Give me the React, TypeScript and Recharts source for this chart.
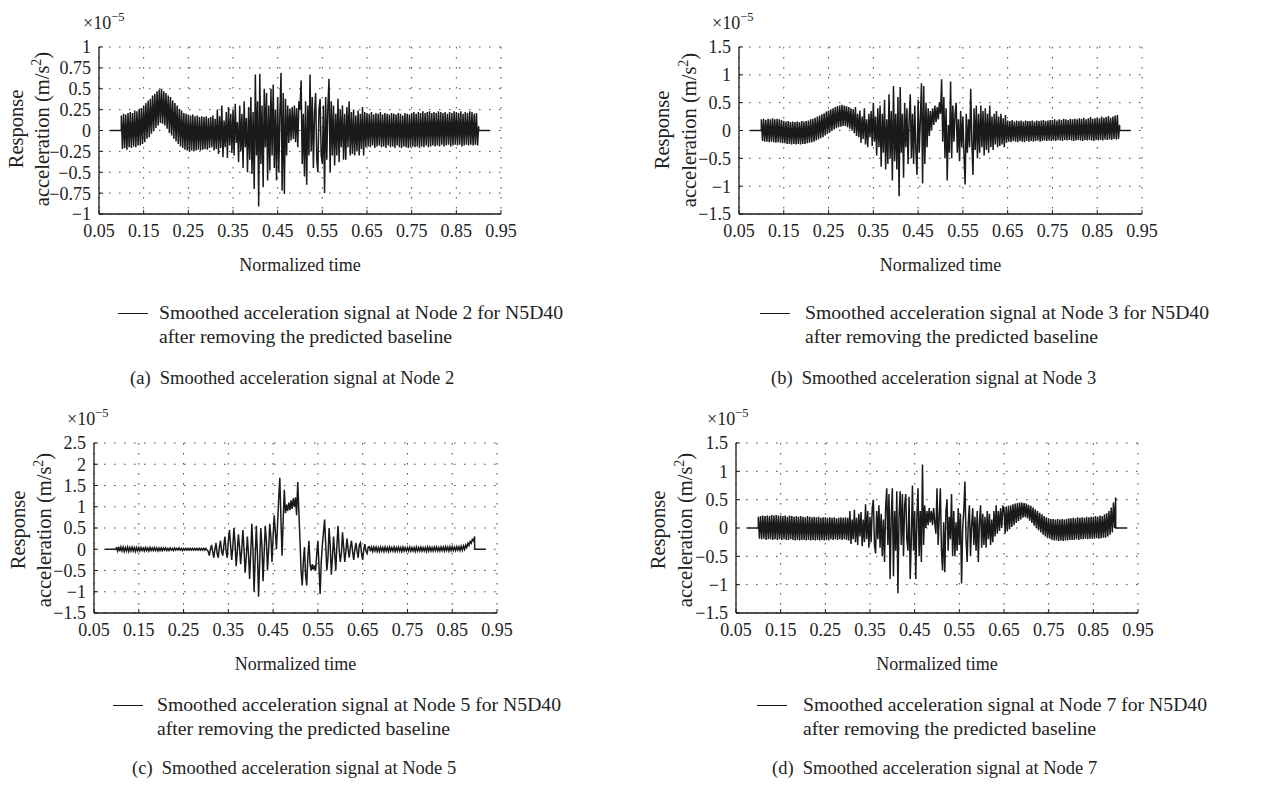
import React from 'react';
import { LineChart, Line, XAxis, YAxis, CartesianGrid } from 'recharts';

// signal values in units of 1e-5 m/s^2, one sample every 0.0025 of normalized time, 0.100 .. 0.900
const node2 = [
  0.18, -0.22, 0.2, -0.21, 0.19, -0.23, 0.21, -0.2, 0.22, -0.21, 0.21, -0.19, 0.24, -0.2, 0.23, -0.18, 0.26, -0.18, 0.27, -0.16,
  0.3, -0.14, 0.33, -0.1, 0.36, -0.08, 0.38, -0.04, 0.42, -0.01, 0.44, 0.03, 0.47, 0.06, 0.49, 0.09, 0.5, 0.08, 0.47, 0.06,
  0.45, 0.02, 0.42, -0.03, 0.4, -0.06, 0.36, -0.1, 0.33, -0.13, 0.3, -0.16, 0.26, -0.19, 0.24, -0.21, 0.21, -0.23, 0.2, -0.24,
  0.19, -0.25, 0.18, -0.24, 0.19, -0.25, 0.17, -0.24, 0.18, -0.23, 0.16, -0.24, 0.17, -0.23, 0.16, -0.22, 0.17, -0.23, 0.15, -0.21,
  0.16, -0.2, 0.18, -0.24, 0.14, -0.22, 0.25, -0.28, 0.17, -0.21, 0.3, -0.32, 0.12, -0.2, 0.22, -0.33, 0.28, -0.18, 0.2, -0.27,
  0.25, -0.3, 0.32, -0.15, 0.1, -0.38, 0.3, -0.25, 0.2, -0.45, 0.35, -0.2, 0.15, -0.5, 0.28, -0.35, 0.4, -0.52, 0.22, -0.7,
  0.67, -0.3, 0.35, -0.91, 0.68, -0.4, 0.3, -0.68, 0.5, -0.2, 0.45, -0.6, 0.3, -0.48, 0.5, -0.3, 0.55, -0.45, 0.25, -0.6,
  0.4, -0.5, 0.2, 0.69, -0.72, 0.45, -0.76, 0.38, -0.3, 0.3, -0.15, 0.26, -0.12, 0.28, -0.1, 0.3, -0.14, 0.27, -0.2, 0.35,
  0.25, 0.6, -0.4, 0.2, -0.55, 0.35, -0.65, 0.3, -0.3, 0.67, -0.25, 0.4, -0.45, 0.2, 0.45, -0.35, -0.5, 0.25, 0.38, -0.3,
  -0.4, 0.3, -0.75, 0.4, -0.35, 0.3, 0.62, -0.5, 0.35, -0.3, 0.3, -0.42, 0.2, -0.3, 0.38, -0.38, 0.25, -0.2, 0.3, -0.35,
  0.2, -0.35, 0.28, -0.2, 0.35, -0.3, 0.22, -0.28, 0.25, -0.3, 0.18, -0.25, 0.24, -0.3, 0.2, -0.22, 0.28, -0.3, 0.22, -0.2,
  0.21, -0.19, 0.2, -0.2, 0.22, -0.18, 0.19, -0.21, 0.21, -0.19, 0.2, -0.18, 0.22, -0.2, 0.19, -0.19, 0.21, -0.21, 0.2, -0.18,
  0.19, -0.2, 0.21, -0.19, 0.2, -0.21, 0.19, -0.18, 0.21, -0.2, 0.2, -0.21, 0.18, -0.19, 0.21, -0.2, 0.2, -0.21, 0.19, -0.2,
  0.21, -0.19, 0.22, -0.2, 0.2, -0.19, 0.22, -0.21, 0.21, -0.19, 0.23, -0.2, 0.21, -0.18, 0.22, -0.2, 0.23, -0.19, 0.21, -0.18,
  0.22, -0.19, 0.21, -0.18, 0.23, -0.19, 0.22, -0.17, 0.21, -0.19, 0.22, -0.18, 0.2, -0.17, 0.22, -0.19, 0.21, -0.18, 0.23, -0.17,
  0.22, -0.18, 0.21, -0.17, 0.23, -0.19, 0.2, -0.18, 0.22, -0.17, 0.21, -0.18, 0.23, -0.17, 0.22, -0.18, 0.2, -0.17, 0.21, -0.18,
  0.05,
];

const node3 = [
  0.2, -0.19, 0.21, -0.2, 0.19, -0.2, 0.21, -0.21, 0.2, -0.2, 0.22, -0.21, 0.2, -0.22, 0.21, -0.21, 0.2, -0.22, 0.19, -0.23,
  0.17, -0.23, 0.16, -0.24, 0.17, -0.24, 0.15, -0.25, 0.16, -0.24, 0.15, -0.25, 0.16, -0.24, 0.15, -0.25, 0.17, -0.24, 0.16, -0.24,
  0.17, -0.23, 0.18, -0.22, 0.2, -0.21, 0.21, -0.2, 0.23, -0.18, 0.25, -0.16, 0.27, -0.14, 0.29, -0.12, 0.31, -0.09, 0.34, -0.06,
  0.36, -0.04, 0.38, -0.01, 0.4, 0.02, 0.42, 0.04, 0.44, 0.06, 0.45, 0.07, 0.46, 0.08, 0.45, 0.08, 0.44, 0.06, 0.42, 0.03,
  0.4, 0.0, 0.38, -0.05, 0.42, -0.1, 0.3, -0.12, 0.36, -0.22, 0.25, -0.15, 0.4, -0.25, 0.2, -0.3, 0.3, -0.12, 0.35, -0.28,
  0.5, -0.2, 0.25, -0.45, 0.4, -0.3, 0.45, -0.65, 0.3, -0.4, 0.55, -0.7, 0.2, -0.6, 0.65, -0.5, 0.35, -0.9, 0.8, -0.55,
  0.3, -0.7, 0.6, -1.18, 0.78, -0.4, 0.3, -0.85, 0.5, -0.3, 0.4, -0.6, 0.2, 0.65, -0.5, 0.3, -0.6, 0.45, -0.35, -0.8,
  0.55, -0.4, 0.2, 0.85, -0.95, 0.8, -0.6, 0.5, -0.3, 0.4, -0.1, 0.35, 0.0, 0.4, 0.1, 0.45, 0.15, 0.42, 0.2, 0.5,
  0.3, 0.92, -0.2, 0.6, -0.5, 0.4, -0.9, 0.1, -0.4, 0.88, -0.5, 0.45, -0.2, 0.3, 0.5, -0.4, 0.2, -0.55, 0.35, -0.3,
  0.25, -0.45, -0.97, 0.3, -0.4, 0.2, -0.3, 0.75, -0.2, -0.8, 0.4, -0.35, 0.45, -0.5, 0.3, -0.4, 0.45, -0.3, 0.35, -0.45,
  0.4, -0.35, 0.3, -0.4, 0.45, -0.3, 0.25, -0.35, 0.3, -0.25, 0.35, -0.3, 0.25, -0.28, 0.3, -0.25, 0.22, -0.3, 0.28, -0.22,
  0.18, -0.2, 0.17, -0.21, 0.19, -0.19, 0.16, -0.2, 0.18, -0.21, 0.17, -0.19, 0.18, -0.2, 0.16, -0.21, 0.18, -0.19, 0.17, -0.2,
  0.17, -0.19, 0.18, -0.2, 0.16, -0.19, 0.18, -0.18, 0.17, -0.2, 0.18, -0.19, 0.19, -0.18, 0.17, -0.19, 0.18, -0.18, 0.19, -0.19,
  0.19, -0.18, 0.2, -0.19, 0.18, -0.17, 0.2, -0.18, 0.19, -0.19, 0.21, -0.17, 0.2, -0.18, 0.19, -0.17, 0.21, -0.18, 0.2, -0.19,
  0.21, -0.18, 0.2, -0.17, 0.22, -0.18, 0.21, -0.19, 0.23, -0.17, 0.2, -0.18, 0.22, -0.17, 0.24, -0.18, 0.21, -0.19, 0.22, -0.17,
  0.23, -0.18, 0.22, -0.17, 0.25, -0.18, 0.23, -0.16, 0.24, -0.17, 0.26, -0.16, 0.23, -0.17, 0.25, -0.15, 0.27, -0.16, 0.28, -0.15,
  0.1,
];

const node5 = [
  0.05, -0.04, 0.06, -0.05, 0.05, -0.04, 0.05, -0.05, 0.04, -0.04, 0.05, -0.05, 0.04, -0.04, 0.05, -0.04, 0.04, -0.05, 0.04, -0.04,
  0.04, -0.04, 0.04, -0.03, 0.03, -0.04, 0.04, -0.03, 0.03, -0.04, 0.04, -0.03, 0.03, -0.03, 0.04, -0.03, 0.03, -0.04, 0.03, -0.03,
  0.03, -0.03, 0.03, -0.02, 0.03, -0.03, 0.02, -0.03, 0.03, -0.02, 0.02, -0.03, 0.03, -0.02, 0.02, -0.02, 0.03, -0.02, 0.02, -0.03,
  0.02, -0.02, 0.02, -0.02, 0.02, -0.02, 0.02, -0.02, 0.02, -0.02, 0.02, -0.02, 0.02, -0.02, 0.02, -0.02, 0.02, -0.02, 0.02, -0.02,
  0.02, -0.02, -0.05, -0.15, 0.0, 0.1, -0.05, -0.2, 0.0, 0.15, -0.1, -0.2, 0.05, 0.2, -0.05, -0.15, 0.1, 0.3, -0.05, -0.2,
  0.2, 0.45, 0.1, -0.25, 0.05, 0.5, 0.15, -0.4, -0.05, 0.35, 0.05, -0.35, 0.0, 0.45, 0.0, -0.55, -0.2, 0.3, -0.1, -0.7,
  -0.1, 0.6, 0.0, -1.0, -0.2, 0.55, -0.1, -1.12, -0.3, 0.5, 0.1, -0.75, -0.1, 0.55, 0.2, -0.5, 0.0, 0.6, 0.3, -0.3,
  0.3, 0.8, 0.4, 0.0, 0.6, 1.2, 1.68, 0.7, -0.15, 0.7, 1.4, 0.85, 1.05, 0.9, 1.1, 0.92, 1.15, 0.95, 1.2, 1.0,
  1.22, 0.8, 1.58, 0.9, 0.2, -0.5, -0.85, -0.3, 0.05, -0.6, -0.85, -0.2, 0.2, -0.35, -0.5, -0.35, -0.48, -0.38, -0.5, -0.1,
  0.2, -0.4, -1.05, -0.3, 0.1, 0.4, 0.7, 0.1, -0.5, -0.2, 0.5, 0.1, -0.6, -0.2, 0.3, -0.1, -0.5, 0.1, 0.55, 0.0,
  -0.3, -0.1, 0.4, 0.05, -0.3, -0.05, 0.25, 0.0, -0.2, 0.05, 0.2, -0.05, -0.25, 0.0, 0.15, -0.05, -0.2, 0.1, 0.15, -0.1,
  -0.25, 0.0, 0.12, -0.05, -0.1, 0.05, 0.06, -0.05, 0.05, -0.05, 0.05, -0.04, 0.05, -0.05, 0.04, -0.05, 0.05, -0.04, 0.04, -0.05,
  0.05, -0.04, 0.04, -0.05, 0.05, -0.04, 0.04, -0.04, 0.05, -0.05, 0.04, -0.04, 0.05, -0.04, 0.04, -0.05, 0.05, -0.04, 0.04, -0.04,
  0.04, -0.04, 0.05, -0.04, 0.04, -0.04, 0.04, -0.05, 0.05, -0.04, 0.04, -0.04, 0.05, -0.04, 0.04, -0.04, 0.04, -0.05, 0.05, -0.04,
  0.05, -0.04, 0.04, -0.04, 0.05, -0.03, 0.05, -0.04, 0.04, -0.04, 0.05, -0.03, 0.05, -0.04, 0.06, -0.03, 0.05, -0.04, 0.06, -0.03,
  0.06, -0.03, 0.05, -0.03, 0.06, -0.02, 0.06, -0.03, 0.07, -0.02, 0.08, 0.0, 0.1, 0.04, 0.14, 0.09, 0.18, 0.14, 0.23, 0.2,
  0.3,
];

const node7 = [
  0.2, -0.19, 0.21, -0.2, 0.22, -0.19, 0.21, -0.21, 0.22, -0.2, 0.21, -0.2, 0.23, -0.21, 0.22, -0.2, 0.23, -0.21, 0.22, -0.2,
  0.22, -0.21, 0.21, -0.2, 0.22, -0.21, 0.2, -0.21, 0.22, -0.2, 0.21, -0.21, 0.2, -0.22, 0.21, -0.21, 0.2, -0.22, 0.21, -0.21,
  0.2, -0.21, 0.19, -0.22, 0.21, -0.21, 0.2, -0.22, 0.19, -0.21, 0.2, -0.22, 0.19, -0.21, 0.2, -0.22, 0.18, -0.21, 0.19, -0.22,
  0.19, -0.21, 0.18, -0.22, 0.19, -0.2, 0.18, -0.21, 0.19, -0.2, 0.17, -0.21, 0.18, -0.2, 0.19, -0.21, 0.18, -0.2, 0.19, -0.21,
  0.18, -0.22, 0.3, -0.28, 0.15, -0.2, 0.32, -0.25, 0.18, -0.3, 0.25, -0.15, 0.28, -0.32, 0.15, -0.25, 0.42, -0.2, 0.3, -0.35,
  0.2, -0.25, 0.35, 0.5, -0.3, -0.45, 0.3, -0.2, 0.4, -0.35, 0.25, -0.5, 0.15, -0.6, 0.35, 0.7, -0.3, 0.6, -0.9, 0.2,
  0.7, -0.85, 0.3, -0.4, 0.65, -1.15, 0.2, 0.65, -0.3, 0.6, -0.5, 0.4, 0.6, -0.2, -0.4, 0.55, -0.9, -0.2, 0.75, -0.4,
  0.3, -0.9, 0.2, 0.7, -0.5, 0.3, -0.6, 1.12, -0.3, 0.4, 0.0, 0.3, 0.05, 0.35, 0.1, 0.3, 0.05, 0.35, 0.1, -0.1,
  0.7, -0.3, 0.2, 0.7, -0.4, -0.75, 0.1, -0.78, 0.3, 0.5, -0.4, 0.2, -0.2, 0.6, -0.5, 0.3, -0.5, 0.1, -0.4, 0.35,
  -0.3, 0.25, -0.98, 0.0, 0.3, 0.82, -0.2, -0.6, 0.1, 0.4, -0.5, 0.05, 0.35, -0.3, 0.2, -0.4, 0.3, -0.6, 0.1, 0.4,
  -0.35, 0.25, -0.3, 0.2, -0.35, 0.3, -0.2, 0.25, -0.3, 0.15, -0.25, 0.3, -0.15, 0.4, -0.1, 0.3, -0.05, 0.35, 0.0, 0.38,
  0.36, -0.1, 0.38, -0.06, 0.39, -0.02, 0.4, 0.02, 0.42, 0.05, 0.43, 0.09, 0.44, 0.12, 0.45, 0.15, 0.45, 0.18, 0.44, 0.19,
  0.43, 0.17, 0.41, 0.13, 0.39, 0.09, 0.36, 0.04, 0.33, 0.0, 0.3, -0.04, 0.27, -0.08, 0.24, -0.12, 0.21, -0.15, 0.19, -0.18,
  0.17, -0.19, 0.16, -0.21, 0.16, -0.22, 0.15, -0.22, 0.16, -0.23, 0.15, -0.22, 0.16, -0.23, 0.15, -0.22, 0.16, -0.22, 0.17, -0.21,
  0.17, -0.21, 0.18, -0.21, 0.17, -0.2, 0.19, -0.21, 0.18, -0.2, 0.19, -0.2, 0.18, -0.19, 0.2, -0.2, 0.19, -0.19, 0.2, -0.19,
  0.2, -0.19, 0.21, -0.18, 0.2, -0.19, 0.22, -0.18, 0.21, -0.17, 0.24, -0.17, 0.26, -0.15, 0.3, -0.12, 0.36, -0.08, 0.45, 0.0,
  0.54,
];

const xTicks = [0.05, 0.15, 0.25, 0.35, 0.45, 0.55, 0.65, 0.75, 0.85, 0.95];
const yTicksA = [-1, -0.75, -0.5, -0.25, 0, 0.25, 0.5, 0.75, 1];
const yTicksB = [-1.5, -1, -0.5, 0, 0.5, 1, 1.5];
const yTicksC = [-1.5, -1, -0.5, 0, 0.5, 1, 1.5, 2, 2.5];
const yTicksD = [-1.5, -1, -0.5, 0, 0.5, 1, 1.5];

const SERIF = "'Liberation Serif', 'DejaVu Serif', serif";
const INK = '#1a1a1a';

function toRows(values: number[]) {
  const rows = [{ t: 0.075, v: 0 }, { t: 0.0999, v: 0 }];
  values.forEach((v, i) => rows.push({ t: 0.1 + i * 0.0025, v }));
  rows.push({ t: 0.9001, v: 0 }, { t: 0.925, v: 0 });
  return rows;
}

const fmtY = (v: number) => (v < 0 ? '\u2212' + Math.abs(v) : String(v));

interface PanelProps {
  values: number[];
  yTicks: number[];
  box: { L: number; T: number; W: number; H: number };
  expX: number;
  yLab: { x1: number; x2: number; cy: number };
  node: string;
  letter: string;
  leg: { lineX: number; textX: number; y1: number; capX: number; capY: number };
}

const abs = (left: number, top: number, extra: React.CSSProperties = {}): React.CSSProperties => ({
  position: 'absolute',
  left,
  top,
  whiteSpace: 'nowrap',
  fontFamily: SERIF,
  color: '#222',
  lineHeight: 1,
  ...extra,
});

function Panel({ values, yTicks, box, expX, yLab, node, letter, leg }: PanelProps) {
  const data = toRows(values);
  const domain: [number, number] = [yTicks[0], yTicks[yTicks.length - 1]];
  const frame = { stroke: INK, strokeWidth: 1.3 };
  const inTick = { stroke: INK, strokeWidth: 1 };
  return (
    <>
      <div style={abs(box.L - 60, box.T - 10)}>
        <LineChart width={box.W + 90} height={box.H + 40} data={data} margin={{ top: 10, right: 30, left: 0, bottom: 0 }}>
          <CartesianGrid stroke="#444" strokeDasharray="1.5 8.5" strokeWidth={1} />
          <XAxis
            dataKey="t"
            type="number"
            domain={[0.05, 0.95]}
            ticks={xTicks}
            interval={0}
            allowDataOverflow
            height={30}
            tickSize={-4}
            tickMargin={14}
            tickLine={inTick}
            axisLine={frame}
            tickFormatter={(v: number) => v.toFixed(2)}
            tick={{ fill: '#222', fontSize: 18, fontFamily: SERIF }}
          />
          <XAxis xAxisId="top" orientation="top" type="number" domain={[0.05, 0.95]} ticks={xTicks} interval={0} height={0} tick={false} tickSize={-4} tickLine={inTick} axisLine={frame} />
          <YAxis
            type="number"
            domain={domain}
            ticks={yTicks}
            interval={0}
            width={60}
            tickSize={-4}
            tickMargin={12}
            tickLine={inTick}
            axisLine={frame}
            tickFormatter={fmtY}
            tick={{ fill: '#222', fontSize: 18, fontFamily: SERIF }}
          />
          <YAxis yAxisId="right" orientation="right" type="number" domain={domain} ticks={yTicks} interval={0} width={0} tick={false} tickSize={-4} tickLine={inTick} axisLine={frame} />
          <Line type="linear" dataKey="v" stroke={INK} strokeWidth={1.5} dot={false} isAnimationActive={false} />
        </LineChart>
      </div>

      <div style={abs(expX, box.T - 36, { fontSize: 18 })}>
        ×10<sup style={{ fontSize: 12.5, verticalAlign: 8 }}>{'\u22125'}</sup>
      </div>

      <div style={abs(yLab.x1, yLab.cy, { fontSize: 20.5, transform: 'translate(-50%, -50%) rotate(-90deg)' })}>Response</div>
      <div style={abs(yLab.x2, yLab.cy, { fontSize: 20.5, transform: 'translate(-50%, -50%) rotate(-90deg)' })}>
        acceleration (m/s<sup style={{ fontSize: 14, verticalAlign: 8 }}>2</sup>)
      </div>

      <div style={abs(box.L + box.W / 2, box.T + box.H + 51, { fontSize: 18, transform: 'translate(-50%, -50%)' })}>Normalized time</div>

      <div style={{ position: 'absolute', left: leg.lineX, top: leg.y1, width: 30, borderTop: `1px solid ${INK}` }} />
      <div style={abs(leg.textX, leg.y1, { fontSize: 19.7, transform: 'translateY(-50%)' })}>
        Smoothed acceleration signal at Node {node} for N5D40
      </div>
      <div style={abs(leg.textX, leg.y1 + 24, { fontSize: 19.7, transform: 'translateY(-50%)' })}>after removing the predicted baseline</div>
      <div style={abs(leg.capX, leg.capY, { fontSize: 18.5, transform: 'translateY(-50%)' })}>
        ({letter})&nbsp;&nbsp;Smoothed acceleration signal at Node {node}
      </div>
    </>
  );
}

export default function App() {
  return (
    <div style={{ position: 'absolute', left: 0, top: 0, width: 1280, height: 791, background: '#fff', overflow: 'hidden' }}>
      <Panel
        values={node2}
        yTicks={yTicksA}
        box={{ L: 99, T: 47, W: 402, H: 167 }}
        expX={83}
        yLab={{ x1: 16, x2: 41, cy: 129 }}
        node="2"
        letter="a"
        leg={{ lineX: 118, textX: 159, y1: 313, capX: 130, capY: 378 }}
      />
      <Panel
        values={node3}
        yTicks={yTicksB}
        box={{ L: 739, T: 47, W: 403, H: 167 }}
        expX={712}
        yLab={{ x1: 662, x2: 688, cy: 130 }}
        node="3"
        letter="b"
        leg={{ lineX: 760, textX: 805, y1: 313, capX: 771, capY: 378 }}
      />
      <Panel
        values={node5}
        yTicks={yTicksC}
        box={{ L: 94, T: 443, W: 403, H: 170 }}
        expX={67}
        yLab={{ x1: 18, x2: 43, cy: 530 }}
        node="5"
        letter="c"
        leg={{ lineX: 113, textX: 157, y1: 705, capX: 132, capY: 768 }}
      />
      <Panel
        values={node7}
        yTicks={yTicksD}
        box={{ L: 736, T: 443, W: 402, H: 170 }}
        expX={707}
        yLab={{ x1: 658, x2: 684, cy: 530 }}
        node="7"
        letter="d"
        leg={{ lineX: 757, textX: 803, y1: 705, capX: 772, capY: 768 }}
      />
    </div>
  );
}
